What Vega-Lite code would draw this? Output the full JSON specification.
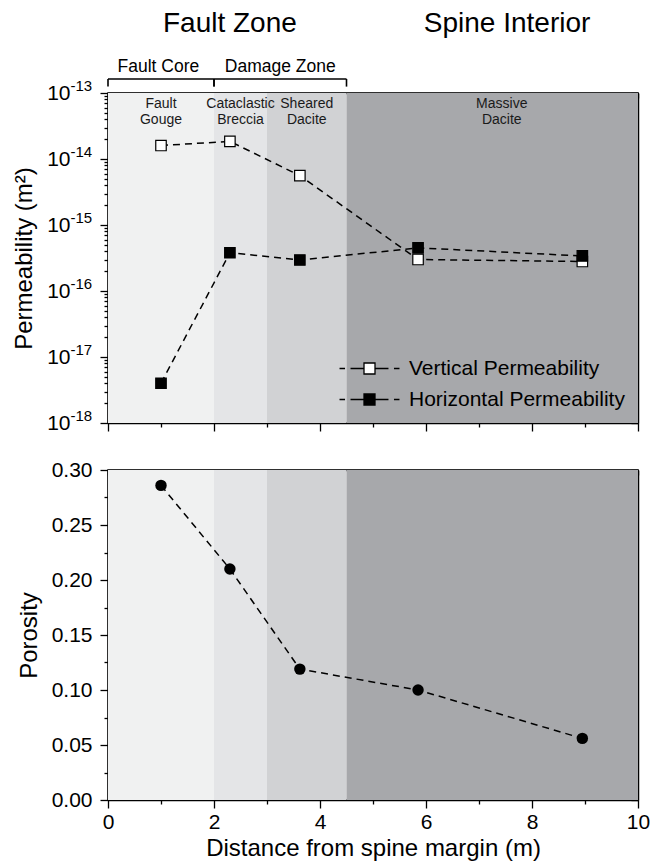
{
  "$schema": "https://vega.github.io/schema/vega-lite/v6.json",
  "padding": {"left": 11, "top": 9, "right": 0, "bottom": 6},
  "config": {
    "font": "Liberation Sans",
    "view": {"stroke": "black", "strokeWidth": 1.5},
    "axis": {"domainColor": "black", "domainWidth": 1.5, "tickColor": "black", "tickWidth": 1.3, "labelColor": "black", "titleColor": "black", "labelFontSize": 21, "titleFontSize": 24, "titleFontWeight": "normal", "grid": false, "labelOverlap": false, "labelFlush": false}
  },
  "datasets": {
    "zones": [
      {"zone": "Fault Gouge", "start": 0, "end": 2, "mid": 1, "label": "Fault\nGouge"},
      {"zone": "Cataclastic Breccia", "start": 2, "end": 3, "mid": 2.5, "label": "Cataclastic\nBreccia"},
      {"zone": "Sheared Dacite", "start": 3, "end": 4.5, "mid": 3.75, "label": "Sheared\nDacite"},
      {"zone": "Massive Dacite", "start": 4.5, "end": 10, "mid": 7.43, "label": "Massive\nDacite"}
    ],
    "groups": [
      {"group": "Fault Core", "start": 0, "end": 2, "mid": 0.95},
      {"group": "Damage Zone", "start": 2, "end": 4.5, "mid": 3.25}
    ],
    "regions": [
      {"region": "Fault Zone", "mid": 2.3},
      {"region": "Spine Interior", "mid": 7.53}
    ],
    "perm": [
      {"distance": 1.0, "series": "Vertical Permeability", "k": 1.6e-14},
      {"distance": 2.3, "series": "Vertical Permeability", "k": 1.85e-14},
      {"distance": 3.62, "series": "Vertical Permeability", "k": 5.6e-15},
      {"distance": 5.85, "series": "Vertical Permeability", "k": 3.0e-16},
      {"distance": 8.95, "series": "Vertical Permeability", "k": 2.8e-16},
      {"distance": 1.0, "series": "Horizontal Permeability", "k": 4.0e-18},
      {"distance": 2.3, "series": "Horizontal Permeability", "k": 3.8e-16},
      {"distance": 3.62, "series": "Horizontal Permeability", "k": 2.95e-16},
      {"distance": 5.85, "series": "Horizontal Permeability", "k": 4.5e-16},
      {"distance": 8.95, "series": "Horizontal Permeability", "k": 3.4e-16}
    ],
    "poro": [
      {"distance": 1.0, "porosity": 0.286},
      {"distance": 2.3, "porosity": 0.210},
      {"distance": 3.62, "porosity": 0.119},
      {"distance": 5.85, "porosity": 0.100},
      {"distance": 8.95, "porosity": 0.056}
    ]
  },
  "spacing": 47,
  "bounds": "flush",
  "resolve": {"scale": {"fill": "independent", "color": "independent"}, "legend": {"fill": "independent", "color": "independent"}},
  "vconcat": [
    {
      "width": 530,
      "height": 330,
      "resolve": {"axis": {"x": "independent", "y": "independent"}},
      "layer": [
        {
          "data": {"name": "zones"},
          "mark": {"type": "rect"},
          "encoding": {
            "x": {"field": "start", "type": "quantitative", "scale": {"domain": [0, 10], "nice": false, "zero": false},
              "axis": {"orient": "bottom", "values": [0,1,2,3,4,5,6,7,8,9,10], "labels": false, "title": null,
                "tickSize": {"condition": {"test": "datum.value % 2 == 0", "value": 8}, "value": 4}}},
            "x2": {"field": "end"},
            "color": {"field": "zone", "type": "nominal", "scale": {"domain": ["Fault Gouge", "Cataclastic Breccia", "Sheared Dacite", "Massive Dacite"], "range": ["#f0f1f1", "#e4e5e7", "#d1d2d4", "#a7a8ab"]}, "legend": null}
          }
        },
        {
          "data": {"name": "zones"},
          "mark": {"type": "text", "fontSize": 14, "baseline": "top", "lineBreak": "\n", "lineHeight": 16, "color": "#1a1a1a"},
          "encoding": {
            "x": {"field": "mid", "type": "quantitative", "scale": {"domain": [0, 10], "nice": false, "zero": false}, "axis": null},
            "y": {"datum": 8.6e-14, "type": "quantitative", "scale": {"type": "log", "domain": [1e-18, 1e-13], "nice": false}, "axis": null},
            "text": {"field": "label"}
          }
        },
        {
          "data": {"name": "regions"},
          "mark": {"type": "text", "fontSize": 28, "baseline": "alphabetic", "color": "black"},
          "encoding": {
            "x": {"field": "mid", "type": "quantitative", "scale": {"domain": [0, 10], "nice": false, "zero": false}, "axis": null},
            "y": {"datum": 8.4e-13, "type": "quantitative", "scale": {"type": "log", "domain": [1e-18, 1e-13], "nice": false}, "axis": null},
            "text": {"field": "region"}
          }
        },
        {
          "data": {"name": "groups"},
          "mark": {"type": "text", "fontSize": 17.5, "baseline": "alphabetic", "color": "black"},
          "encoding": {
            "x": {"field": "mid", "type": "quantitative", "scale": {"domain": [0, 10], "nice": false, "zero": false}, "axis": null},
            "y": {"datum": 2.1e-13, "type": "quantitative", "scale": {"type": "log", "domain": [1e-18, 1e-13], "nice": false}, "axis": null},
            "text": {"field": "group"}
          }
        },
        {
          "data": {"name": "groups"},
          "mark": {"type": "rule", "color": "black", "strokeWidth": 1.6},
          "encoding": {
            "x": {"field": "start", "type": "quantitative", "scale": {"domain": [0, 10], "nice": false, "zero": false}, "axis": null},
            "x2": {"field": "end"},
            "y": {"datum": 1.63e-13, "type": "quantitative", "scale": {"type": "log", "domain": [1e-18, 1e-13], "nice": false}, "axis": null}
          }
        },
        {
          "data": {"name": "groups"},
          "mark": {"type": "rule", "color": "black", "strokeWidth": 1.6},
          "encoding": {
            "x": {"field": "start", "type": "quantitative", "scale": {"domain": [0, 10], "nice": false, "zero": false}, "axis": null},
            "y": {"datum": 1.63e-13, "type": "quantitative", "scale": {"type": "log", "domain": [1e-18, 1e-13], "nice": false}, "axis": null},
            "y2": {"datum": 1.25e-13}
          }
        },
        {
          "data": {"name": "groups"},
          "mark": {"type": "rule", "color": "black", "strokeWidth": 1.6},
          "encoding": {
            "x": {"field": "end", "type": "quantitative", "scale": {"domain": [0, 10], "nice": false, "zero": false}, "axis": null},
            "y": {"datum": 1.63e-13, "type": "quantitative", "scale": {"type": "log", "domain": [1e-18, 1e-13], "nice": false}, "axis": null},
            "y2": {"datum": 1.25e-13}
          }
        },
        {
          "data": {"name": "perm"},
          "mark": {"type": "line", "strokeDash": [7, 5], "color": "black", "strokeWidth": 1.5},
          "encoding": {
            "x": {"field": "distance", "type": "quantitative", "scale": {"domain": [0, 10], "nice": false, "zero": false}, "axis": null},
            "y": {"field": "k", "type": "quantitative", "scale": {"type": "log", "domain": [1e-18, 1e-13], "nice": false},
              "axis": {"orient": "left", "title": "Permeability (m²)", "titlePadding": 10, "labelPadding": 30,
                "values": [1e-18,2e-18,3e-18,4e-18,5e-18,6e-18,7e-18,8e-18,9e-18,1e-17,2e-17,3e-17,4e-17,5e-17,6e-17,7e-17,8e-17,9e-17,1e-16,2e-16,3e-16,4e-16,5e-16,6e-16,7e-16,8e-16,9e-16,1e-15,2e-15,3e-15,4e-15,5e-15,6e-15,7e-15,8e-15,9e-15,1e-14,2e-14,3e-14,4e-14,5e-14,6e-14,7e-14,8e-14,9e-14,1e-13],
                "labelExpr": "abs(log(datum.value)/LN10 - round(log(datum.value)/LN10)) < 0.001 ? '10' : ''",
                "tickSize": {"condition": {"test": "abs(log(datum.value)/LN10 - round(log(datum.value)/LN10)) < 0.001", "value": 8}, "value": 4}}},
            "detail": {"field": "series", "type": "nominal"}
          }
        },
        {
          "data": {"name": "perm"},
          "mark": {"type": "point", "opacity": 0},
          "encoding": {
            "x": {"field": "distance", "type": "quantitative", "scale": {"domain": [0, 10], "nice": false, "zero": false}, "axis": null},
            "y": {"field": "k", "type": "quantitative", "scale": {"type": "log", "domain": [1e-18, 1e-13], "nice": false},
              "axis": {"orient": "left", "title": null, "domain": false, "ticks": false, "tickSize": 0, "labelPadding": 38,
                "labelAlign": "left", "labelFontSize": 15, "labelOffset": -8,
                "values": [1e-18, 1e-17, 1e-16, 1e-15, 1e-14, 1e-13],
                "labelExpr": "toString(round(log(datum.value)/LN10))"}}
          }
        },
        {
          "data": {"name": "perm"},
          "mark": {"type": "point", "shape": "square", "size": 110, "stroke": "black", "strokeWidth": 1.2, "opacity": 1, "filled": true},
          "encoding": {
            "x": {"field": "distance", "type": "quantitative", "scale": {"domain": [0, 10], "nice": false, "zero": false}, "axis": null},
            "y": {"field": "k", "type": "quantitative", "scale": {"type": "log", "domain": [1e-18, 1e-13], "nice": false}, "axis": null},
            "fill": {"field": "series", "type": "nominal",
              "scale": {"domain": ["Vertical Permeability", "Horizontal Permeability"], "range": ["white", "black"]},
              "legend": {"orient": "bottom-right", "title": null, "offset": 13, "padding": 0,
                "symbolType": "M-5.45,0H-4.45M-3.45,0H-1M1,0H3.45M4.45,0H5.45M-1,-1H1V1H-1Z",
                "symbolSize": 121, "symbolStrokeColor": "black", "symbolStrokeWidth": 1.3,
                "labelFontSize": 21, "labelColor": "black", "labelOffset": 29, "rowPadding": 9, "labelLimit": 400}}
          }
        },
        {
          "data": {"name": "perm"},
          "mark": {"type": "point", "opacity": 0},
          "encoding": {
            "x": {"field": "distance", "type": "quantitative", "scale": {"domain": [0, 10], "nice": false, "zero": false},
              "axis": {"orient": "top", "values": [0,1,2,3,4,5,6,7,8,9,10], "labels": false, "title": null,
                "tickSize": {"condition": {"test": "datum.value % 2 == 0", "value": -5}, "value": -3}}},
            "y": {"field": "k", "type": "quantitative", "scale": {"type": "log", "domain": [1e-18, 1e-13], "nice": false},
              "axis": {"orient": "right", "labels": false, "title": null,
                "values": [1e-18,2e-18,3e-18,4e-18,5e-18,6e-18,7e-18,8e-18,9e-18,1e-17,2e-17,3e-17,4e-17,5e-17,6e-17,7e-17,8e-17,9e-17,1e-16,2e-16,3e-16,4e-16,5e-16,6e-16,7e-16,8e-16,9e-16,1e-15,2e-15,3e-15,4e-15,5e-15,6e-15,7e-15,8e-15,9e-15,1e-14,2e-14,3e-14,4e-14,5e-14,6e-14,7e-14,8e-14,9e-14,1e-13],
                "tickSize": {"condition": {"test": "abs(log(datum.value)/LN10 - round(log(datum.value)/LN10)) < 0.001", "value": -7}, "value": -4}}}
          }
        }
      ]
    },
    {
      "width": 530,
      "height": 330,
      "resolve": {"axis": {"x": "independent", "y": "independent"}},
      "layer": [
        {
          "data": {"name": "zones"},
          "mark": {"type": "rect"},
          "encoding": {
            "x": {"field": "start", "type": "quantitative", "scale": {"domain": [0, 10], "nice": false, "zero": false},
              "axis": {"orient": "bottom", "values": [0,1,2,3,4,5,6,7,8,9,10], "title": "Distance from spine margin (m)", "labelPadding": 3, "titlePadding": 4,
                "labelExpr": "datum.value % 2 == 0 ? datum.label : ''",
                "tickSize": {"condition": {"test": "datum.value % 2 == 0", "value": 8}, "value": 4}}},
            "x2": {"field": "end"},
            "color": {"field": "zone", "type": "nominal", "scale": {"domain": ["Fault Gouge", "Cataclastic Breccia", "Sheared Dacite", "Massive Dacite"], "range": ["#f0f1f1", "#e4e5e7", "#d1d2d4", "#a7a8ab"]}, "legend": null}
          }
        },
        {
          "data": {"name": "poro"},
          "mark": {"type": "line", "strokeDash": [7, 5], "color": "black", "strokeWidth": 1.5},
          "encoding": {
            "x": {"field": "distance", "type": "quantitative", "scale": {"domain": [0, 10], "nice": false, "zero": false}, "axis": null},
            "y": {"field": "porosity", "type": "quantitative", "scale": {"domain": [0, 0.3], "nice": false},
              "axis": {"orient": "left", "title": "Porosity", "titlePadding": 10, "labelPadding": 8,
                "values": [0, 0.025, 0.05, 0.075, 0.1, 0.125, 0.15, 0.175, 0.2, 0.225, 0.25, 0.275, 0.3],
                "labelExpr": "abs(datum.value*20 - round(datum.value*20)) < 0.001 ? format(datum.value, '.2f') : ''",
                "tickSize": {"condition": {"test": "abs(datum.value*20 - round(datum.value*20)) < 0.001", "value": 8}, "value": 4}}}
          }
        },
        {
          "data": {"name": "poro"},
          "mark": {"type": "circle", "size": 130, "color": "black", "opacity": 1},
          "encoding": {
            "x": {"field": "distance", "type": "quantitative", "scale": {"domain": [0, 10], "nice": false, "zero": false}, "axis": null},
            "y": {"field": "porosity", "type": "quantitative", "scale": {"domain": [0, 0.3], "nice": false}, "axis": null}
          }
        },
        {
          "data": {"name": "poro"},
          "mark": {"type": "point", "opacity": 0},
          "encoding": {
            "x": {"field": "distance", "type": "quantitative", "scale": {"domain": [0, 10], "nice": false, "zero": false},
              "axis": {"orient": "top", "values": [0,1,2,3,4,5,6,7,8,9,10], "labels": false, "title": null,
                "tickSize": {"condition": {"test": "datum.value % 2 == 0", "value": -5}, "value": -3}}},
            "y": {"field": "porosity", "type": "quantitative", "scale": {"domain": [0, 0.3], "nice": false},
              "axis": {"orient": "right", "labels": false, "title": null,
                "values": [0, 0.025, 0.05, 0.075, 0.1, 0.125, 0.15, 0.175, 0.2, 0.225, 0.25, 0.275, 0.3],
                "tickSize": {"condition": {"test": "abs(datum.value*20 - round(datum.value*20)) < 0.001", "value": -7}, "value": -4}}}
          }
        }
      ]
    }
  ]
}
